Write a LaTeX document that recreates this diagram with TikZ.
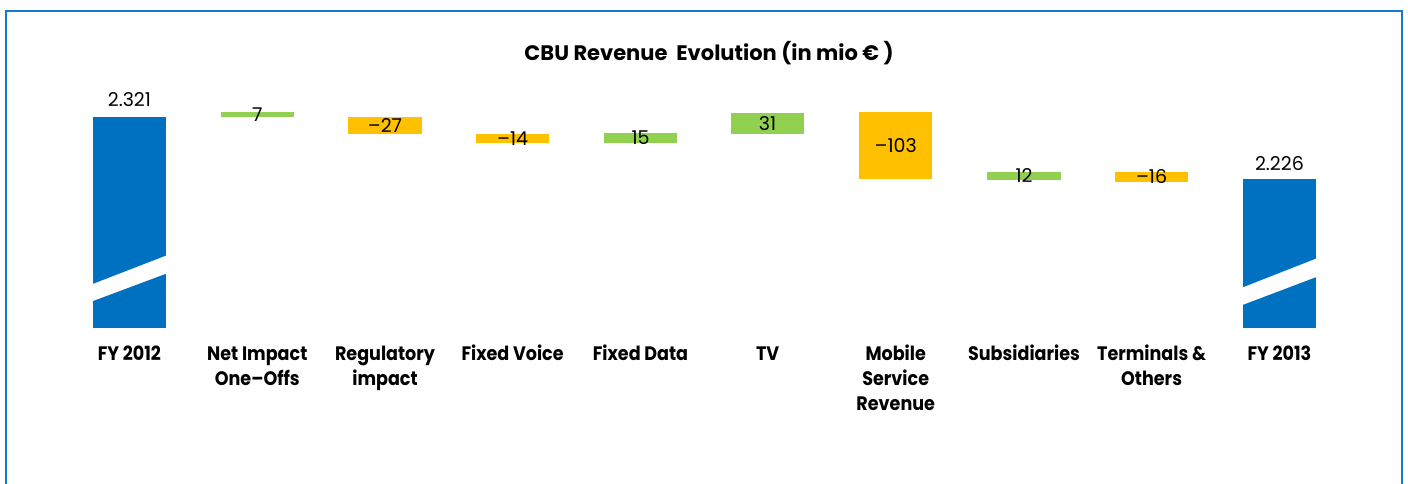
\documentclass[tikz,border=0pt]{standalone}
\usepackage{fontspec}
\setmainfont{Poppins}
\newfontfamily\catfont{Poppins}[FakeStretch=0.9]
\begin{document}
\begin{tikzpicture}[x=1pt,y=-1pt,
  frame/.style={draw={rgb,255:red,22;green,120;blue,212}, line width=2.4pt},
  bar/.style={rectangle, inner sep=0pt, outer sep=0pt, minimum width=73.3pt, draw=none},
  total/.style={bar, fill=barblue},
  up/.style={bar, fill=bargreen},
  down/.style={bar, fill=barorange},
  val/.style={inner sep=0pt, font=\fontsize{19}{22}\selectfont},
  cat/.style={inner sep=0pt, align=center, anchor=north,
    font=\catfont\fontsize{19.5}{25}\selectfont\bfseries},
  heading/.style={inner sep=0pt, anchor=base, font=\fontsize{21}{24}\selectfont\bfseries}
]
\definecolor{barblue}{RGB}{0,112,192}
\definecolor{bargreen}{RGB}{146,208,80}
\definecolor{barorange}{RGB}{255,192,0}
\newcommand\lnstrut{\rule{0pt}{15pt}}
\useasboundingbox (0,0) rectangle (1408,483);

% outer frame (its lower edge lies below the page)
\draw[frame] (6,11) rectangle (1402,520);

% heading
\node[heading] (title) at (709,60) {CBU Revenue\ \ Evolution (in mio €\ )};

% bars: start total, changes, end total
\node[total, minimum height=211pt]  (b0) at (129.4,222.2) {};
\node[up,    minimum height=4.7pt]  (b1) at (257.3,114.4) {};
\node[down,  minimum height=17.6pt] (b2) at (385.0,125.5) {};
\node[down,  minimum height=9pt]    (b3) at (512.6,138.2) {};
\node[up,    minimum height=9.7pt]  (b4) at (640.5,137.9) {};
\node[up,    minimum height=20.7pt] (b5) at (767.6,123.4) {};
\node[down,  minimum height=67pt]   (b6) at (895.7,145.8) {};
\node[up,    minimum height=8pt]    (b7) at (1024.0,176.0) {};
\node[down,  minimum height=10pt]   (b8) at (1151.6,177.0) {};
\node[total, minimum height=148.7pt] (b9) at (1279.4,253.4) {};

% axis-break cuts through the two totals
\fill[white] (92,284.3) -- (167,255.3) -- (167,273.3) -- (92,301.3) -- cycle;
\fill[white] (1242,287.7) -- (1317,258.3) -- (1317,276.7) -- (1242,305.1) -- cycle;

% values
\node[val, anchor=base] (v0) at ([yshift=10.7pt]b0.north) {2.321};
\node[val] (v1) at (b1.center) {7};
\node[val] (v2) at (b2.center) {–27};
\node[val] (v3) at (b3.center) {–14};
\node[val] (v4) at (b4.center) {15};
\node[val] (v5) at (b5.center) {31};
\node[val] (v6) at (b6.center) {–103};
\node[val] (v7) at (b7.center) {12};
\node[val] (v8) at (b8.center) {–16};
\node[val, anchor=base] (v9) at ([yshift=8.3pt]b9.north) {2.226};

% category labels
\node[cat] (c0) at (129.4,345) {\lnstrut FY 2012};
\node[cat] (c1) at (257.3,345) {\lnstrut Net Impact\\One–Offs};
\node[cat] (c2) at (385.0,345) {\lnstrut Regulatory\\impact};
\node[cat] (c3) at (512.6,345) {\lnstrut Fixed Voice};
\node[cat] (c4) at (640.5,345) {\lnstrut Fixed Data};
\node[cat] (c5) at (767.6,345) {\lnstrut TV};
\node[cat] (c6) at (895.7,345) {\lnstrut Mobile\\Service\\Revenue};
\node[cat] (c7) at (1024.0,345) {\lnstrut Subsidiaries};
\node[cat] (c8) at (1151.6,345) {\lnstrut Terminals \&\\Others};
\node[cat] (c9) at (1279.4,345) {\lnstrut FY 2013};
\end{tikzpicture}
\end{document}
